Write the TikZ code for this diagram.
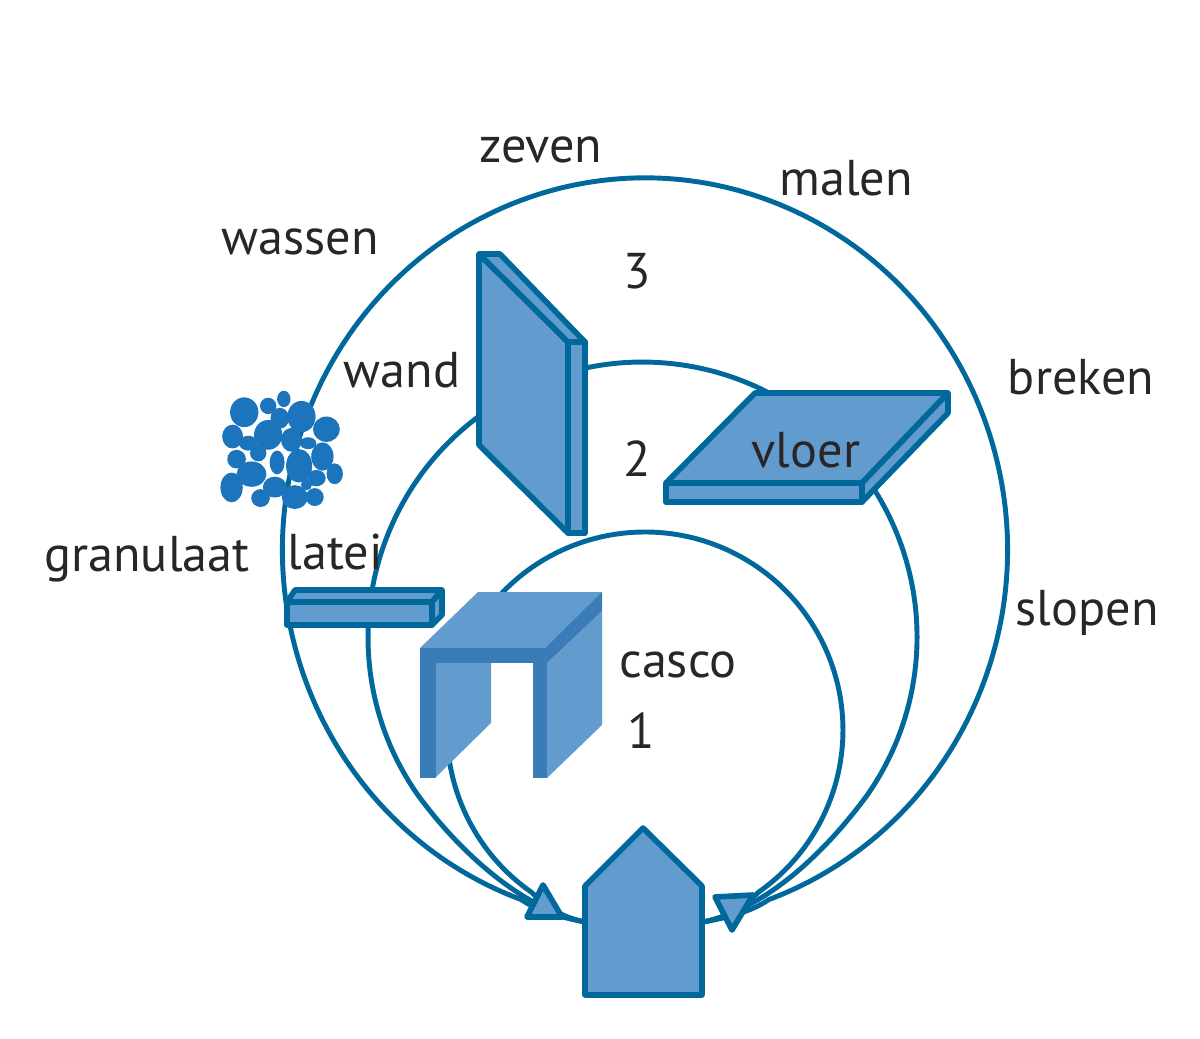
\documentclass[tikz,border=0pt]{standalone}
\usepackage{fontspec}
\setmainfont{PT Sans}
\definecolor{ringblue}{HTML}{00689B}
\definecolor{partblue}{HTML}{629CCE}
\definecolor{deepblue}{HTML}{3A7CB8}
\definecolor{stoneblue}{HTML}{1C75BC}
\definecolor{labelgray}{HTML}{2A2627}
\tikzset{
  ring/.style={draw=ringblue,line width=1.4pt},
  part/.style={draw=ringblue,line width=1.6pt,fill=partblue,line join=round},
  cascoface/.style={fill=partblue},
  cascoedge/.style={fill=deepblue},
  stone/.style={fill=stoneblue},
  label/.style={anchor=base,text=labelgray,font=\fontsize{14.3}{16}\selectfont,inner sep=0pt}
}

\begin{document}
\begin{tikzpicture}
  \useasboundingbox (0,0) rectangle (12,10.38);

  \coordinate (houseL) at (5.85,1.16);
  \coordinate (houseR) at (7.03,1.16);

  \draw[ring] (houseL) .. controls (5.65,1.2) and (5.41,1.25) .. (5.21,1.385)
    arc[start angle=250,end angle=-70,x radius=3.625,y radius=3.72]
    .. controls (7.49,1.25) and (7.25,1.2) .. (houseR);
  \draw[ring] (houseL) .. controls (5.2,1.3) and (4.58,1.88) .. (4.177,2.432)
    arc[start angle=215,end angle=-35,x radius=2.745,y radius=2.75]
    .. controls (8.27,1.88) and (7.68,1.3) .. (houseR);
  \draw[ring] (houseL) .. controls (5.65,1.2) and (5.5,1.28) .. (5.314,1.458)
    arc[start angle=235,end angle=-55,radius=1.98]
    .. controls (7.4,1.28) and (7.25,1.2) .. (houseR);

  \draw[part] (5.43,1.53) -- (5.62,1.21) -- (5.27,1.21) -- cycle;
  \draw[part] (7.15,1.41) -- (7.53,1.43) -- (7.32,1.08) -- cycle;

  % house
  \draw[part] (5.85,0.43) -- (5.85,1.52) -- (6.43,2.10) -- (7.02,1.52) -- (7.02,0.43) -- cycle;

  % wand
  \draw[part] (4.79,7.84) -- (5.68,6.96) -- (5.68,5.05) -- (4.79,5.93) -- cycle;
  \draw[part] (4.79,7.84) -- (5.00,7.84) -- (5.85,6.96) -- (5.68,6.96) -- cycle;
  \draw[part] (5.68,6.96) -- (5.85,6.96) -- (5.85,5.05) -- (5.68,5.05) -- cycle;

  % vloer
  \draw[part] (6.66,5.55) -- (7.55,6.45) -- (9.48,6.45) -- (8.62,5.55) -- cycle;
  \draw[part] (6.66,5.55) -- (8.62,5.55) -- (8.62,5.36) -- (6.66,5.36) -- cycle;
  \draw[part] (8.62,5.55) -- (9.48,6.45) -- (9.48,6.25) -- (8.62,5.36) -- cycle;

  % latei
  \draw[part] (2.87,4.36) -- (4.32,4.36) -- (4.32,4.13) -- (2.87,4.13) -- cycle;
  \draw[part] (2.87,4.36) -- (2.95,4.48) -- (4.42,4.48) -- (4.32,4.36) -- cycle;
  \draw[part] (4.32,4.36) -- (4.42,4.48) -- (4.42,4.23) -- (4.32,4.13) -- cycle;

  % casco
  \fill[cascoface] (4.20,3.90) -- (4.78,4.46) -- (6.02,4.46) -- (5.45,3.90) -- cycle;
  \fill[cascoface] (4.36,3.75) -- (4.91,3.75) -- (4.91,3.15) -- (4.36,2.61) -- cycle;
  \fill[cascoface] (5.47,3.75) -- (6.02,4.27) -- (6.02,3.13) -- (5.47,2.60) -- cycle;
  \fill[cascoedge] (4.20,3.90) -- (5.47,3.90) -- (5.47,3.75) -- (4.20,3.75) -- cycle;
  \fill[cascoedge] (4.20,3.75) -- (4.36,3.75) -- (4.36,2.60) -- (4.20,2.60) -- cycle;
  \fill[cascoedge] (5.33,3.75) -- (5.47,3.75) -- (5.47,2.60) -- (5.33,2.60) -- cycle;
  \fill[cascoedge] (5.45,3.90) -- (6.02,4.46) -- (6.02,4.27) -- (5.47,3.75) -- cycle;

  % granulaat
  \begin{scope}[shift={(2,6.58)},x=0.00333cm,y=-0.00333cm]
    \foreach \x/\y/\a/\b in {133/97/38/40,205/78/22/22,252/57/18/22,305/110/38/42,
        240/115/25/28,205/165/38/40,275/180/28/32,98/170/28/32,145/190/25/20,
        325/190/22/16,380/148/36/34,110/238/25/25,175/220/22/22,232/248/20/32,
        298/258/35/45,368/230/30/38,155/283/40/34,405/282/22/28,95/323/30/40,
        225/322/32/28,350/295/25/22,320/315/15/15,182/355/25/24,285/352/35/32,
        345/352/24/24}
      \fill[stone] (\x,\y) ellipse [x radius=1.12*\a,y radius=1.12*\b];
  \end{scope}

  \node[label] (zeven) at (5.41,8.75) {zeven};
  \node[label] (malen) at (8.46,8.43) {malen};
  \node[label] (wassen) at (3.00,7.84) {wassen};
  \node[label] (nrdrie) at (6.37,7.50) {3};
  \node[label] (wand) at (4.02,6.51) {wand};
  \node[label] (breken) at (10.81,6.44) {breken};
  \node[label] (vloer) at (8.06,5.71) {vloer};
  \node[label] (nrtwee) at (6.37,5.62) {2};
  \node[label] (granulaat) at (1.47,4.67) {granulaat};
  \node[label] (latei) at (3.35,4.69) {latei};
  \node[label] (slopen) at (10.87,4.13) {slopen};
  \node[label] (casco) at (6.78,3.61) {casco};
  \node[label] (nreen) at (6.41,2.90) {1};
\end{tikzpicture}
\end{document}
